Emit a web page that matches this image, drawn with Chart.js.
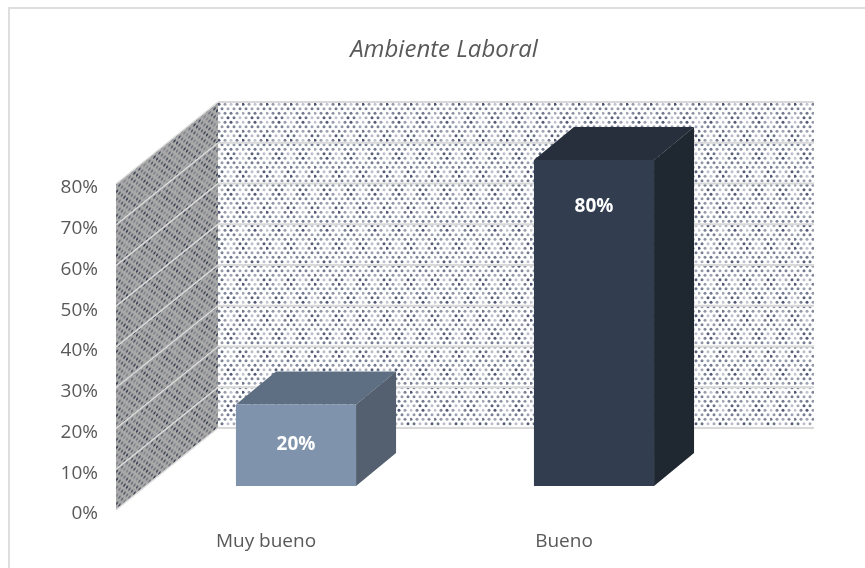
<!DOCTYPE html>
<html lang="en">
<head>
  <meta charset="UTF-8" />
  <title>Ambiente Laboral</title>
  <script src="https://cdn.jsdelivr.net/npm/chart.js@4.4.0/dist/chart.umd.min.js"></script>
  <style>
    html, body { margin: 0; background: #fff; }
    #wrap { position: relative; width: 865px; height: 568px; overflow: hidden; }
    #frame { position: absolute; left: 8px; top: 7px; width: 860px; height: 580px; border: 2px solid #dedede; }
    canvas { position: absolute; left: 0; top: 0; }
  </style>
</head>
<body>
  <div id="wrap">
    <div id="frame"></div>
    <canvas id="chart" width="865" height="568"></canvas>
  </div>
  <script>
    const chartTitle = "Ambiente Laboral";
    const categories = ["Muy bueno", "Bueno"];
    const values = [20, 80];
    const tickValues = [0, 10, 20, 30, 40, 50, 60, 70, 80];
    const frontColors = ["#7f93ad", "#323e50"];
    const topColors = ["#5f6f83", "#262f3b"];
    const sideColors = ["#54606f", "#1f2831"];

    // depth of the fake 3d box, in pixels
    const wallDx = 102, wallDy = -82;
    const barShiftX = 31, barShiftY = -24;
    const barDx = 40, barDy = -33;
    const labelGap = [40, 47];

    // staggered dots that fade in and out in patches, like the scaled excel fill
    function dotPattern(bg, rgb, stepX, stepY, cols, rows, radius, lo, hi) {
      const c = document.createElement("canvas");
      c.width = stepX * cols; c.height = stepY * rows;
      const g = c.getContext("2d");
      g.fillStyle = bg;
      g.fillRect(0, 0, c.width, c.height);
      for (let r = 0; r < rows; r++) {
        for (let k = 0; k < cols; k++) {
          const x = (k + (r % 2 ? 0.5 : 0)) * stepX + 1;
          const y = (r + 0.5) * stepY;
          const patch = Math.cos(2 * Math.PI * x / c.width) * Math.cos(2 * Math.PI * y / c.height);
          g.fillStyle = "rgba(" + rgb + "," + (lo + (hi - lo) * (patch + 1) / 2) + ")";
          g.beginPath();
          g.arc(x, y, radius, 0, 2 * Math.PI);
          g.fill();
        }
      }
      return c;
    }

    const box3d = {
      id: "box3d",
      beforeDatasetsDraw(chart) {
        const { ctx, chartArea: a, scales: { y } } = chart;
        const fx0 = a.left, fx1 = fx0 + wallDx;
        const bottom = y.getPixelForValue(0), top = y.getPixelForValue(80);
        const backRight = a.right + wallDx;

        ctx.save();
        // back wall
        ctx.save();
        ctx.translate(fx1, top + wallDy);
        ctx.fillStyle = ctx.createPattern(dotPattern("#ffffff", "72,82,108", 6, 4.5, 4, 8, 1.5, 0.3, 1), "repeat");
        ctx.fillRect(0, 0, backRight - fx1, bottom - top);
        ctx.restore();

        // side wall, skewed so the dots run with it
        ctx.save();
        ctx.beginPath();
        ctx.moveTo(fx0, bottom);
        ctx.lineTo(fx1, bottom + wallDy);
        ctx.lineTo(fx1, top + wallDy);
        ctx.lineTo(fx0, top);
        ctx.closePath();
        ctx.clip();
        ctx.fillStyle = "#a9a9a9";
        ctx.fill();
        ctx.transform(1, wallDy / wallDx, 0, 1, fx0, bottom);
        ctx.fillStyle = ctx.createPattern(dotPattern("#a9a9a9", "50,56,76", 5, 4, 4, 8, 1.3, 0.25, 0.95), "repeat");
        ctx.fillRect(0, top - bottom - 10, wallDx, bottom - top + 10);
        ctx.restore();

        // gridlines on both walls
        tickValues.forEach(v => {
          const py = y.getPixelForValue(v);
          ctx.strokeStyle = "#dddddd";
          ctx.lineWidth = 1.5;
          ctx.beginPath();
          ctx.moveTo(fx0, py);
          ctx.lineTo(fx1, py + wallDy);
          ctx.stroke();
          ctx.strokeStyle = "#d9d9d9";
          ctx.lineWidth = 2;
          ctx.beginPath();
          ctx.moveTo(fx1, py + wallDy);
          ctx.lineTo(backRight, py + wallDy);
          ctx.stroke();
        });
        ctx.restore();
      },
      beforeDatasetDraw(chart, args) {
        const { ctx } = chart;
        const bars = args.meta.data;
        ctx.save();
        ctx.translate(barShiftX, barShiftY);
        bars.forEach((bar, i) => {
          const l = bar.x - bar.width / 2, r = bar.x + bar.width / 2;
          ctx.fillStyle = topColors[i];
          ctx.beginPath();
          ctx.moveTo(l, bar.y);
          ctx.lineTo(l + barDx, bar.y + barDy);
          ctx.lineTo(r + barDx, bar.y + barDy);
          ctx.lineTo(r, bar.y);
          ctx.closePath();
          ctx.fill();
          ctx.fillStyle = sideColors[i];
          ctx.beginPath();
          ctx.moveTo(r, bar.y);
          ctx.lineTo(r + barDx, bar.y + barDy);
          ctx.lineTo(r + barDx, bar.base + barDy);
          ctx.lineTo(r, bar.base);
          ctx.closePath();
          ctx.fill();
        });
      },
      afterDatasetDraw(chart, args) {
        const { ctx } = chart;
        ctx.font = "bold 19px 'Open Sans', sans-serif";
        ctx.fillStyle = "#ffffff";
        ctx.textAlign = "center";
        ctx.textBaseline = "middle";
        args.meta.data.forEach((bar, i) => {
          ctx.fillText(values[i] + "%", bar.x, bar.y + labelGap[i]);
        });
        ctx.restore();
      },
      afterDraw(chart) {
        const { ctx } = chart;
        ctx.save();
        ctx.font = "italic 24px 'Open Sans', sans-serif";
        ctx.fillStyle = "#595959";
        ctx.textAlign = "center";
        ctx.textBaseline = "middle";
        ctx.fillText(chartTitle, 444, 50);
        ctx.restore();
      }
    };

    new Chart(document.getElementById("chart"), {
      type: "bar",
      data: {
        labels: categories,
        datasets: [{
          data: values,
          backgroundColor: frontColors,
          categoryPercentage: 1,
          barPercentage: 0.403,
          borderWidth: 0
        }]
      },
      plugins: [box3d],
      options: {
        responsive: false,
        animation: false,
        layout: { padding: { left: 40, top: 184, right: 153, bottom: 0 } },
        plugins: { legend: { display: false }, tooltip: { enabled: false } },
        scales: {
          x: {
            grid: { display: false },
            border: { display: false },
            ticks: { color: "#595959", font: { family: "'Open Sans', sans-serif", size: 19 }, padding: 12, labelOffset: 1, maxRotation: 0 },
            afterFit: s => { s.height = 58; }
          },
          y: {
            min: 0,
            max: 80,
            afterBuildTicks: s => { s.ticks = tickValues.map(v => ({ value: v })); },
            grid: { display: false },
            border: { display: false },
            ticks: { color: "#595959", font: { family: "'Open Sans', sans-serif", size: 19 }, padding: 10, labelOffset: 4, callback: v => v + "%" },
            afterFit: s => { s.width = 76; }
          }
        }
      }
    });
  </script>
</body>
</html>
